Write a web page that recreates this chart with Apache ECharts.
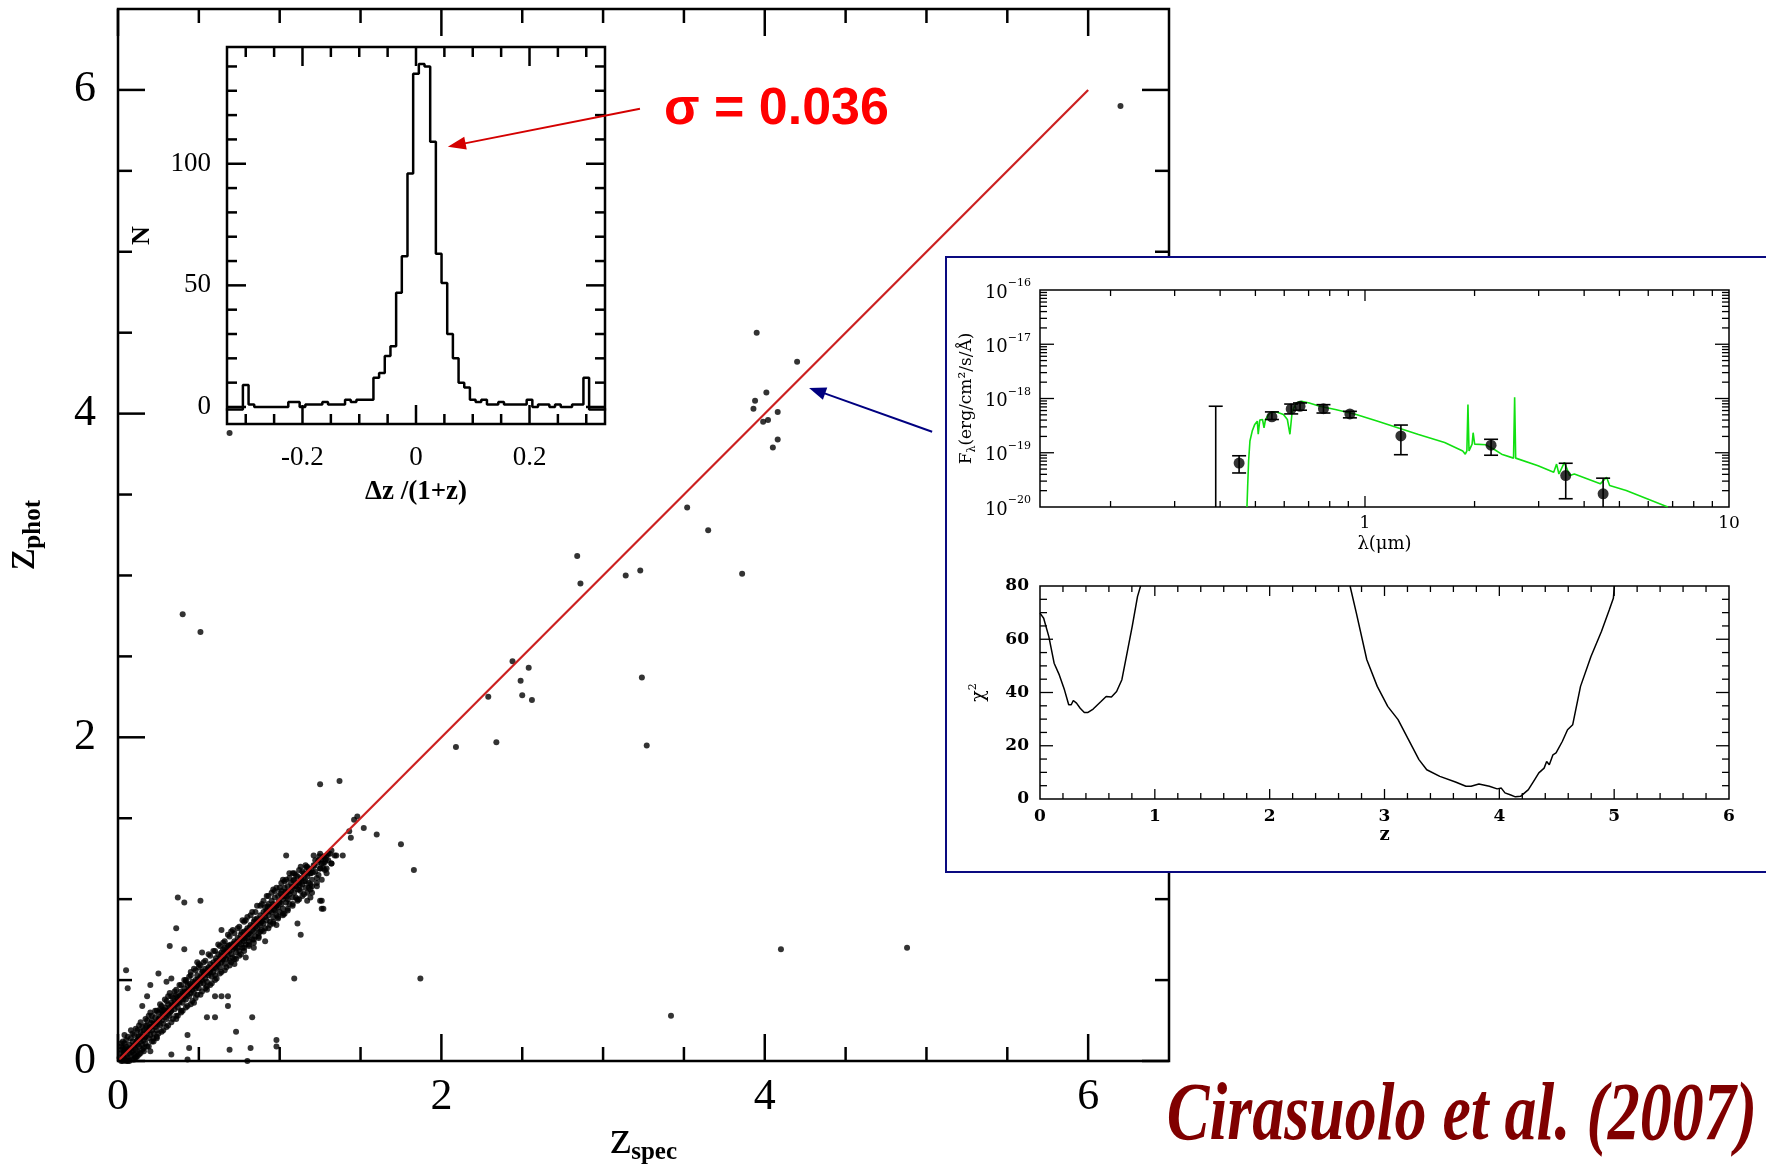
<!DOCTYPE html>
<html><head><meta charset="utf-8">
<script src="https://cdn.jsdelivr.net/npm/echarts@6/dist/echarts.min.js"></script>
<style>html,body{margin:0;padding:0;background:#fff}#c{width:1766px;height:1169px}</style>
</head><body><div id="c"></div><script>
// ---------------- DATA ----------------
// main plot: [z_spec, z_phot]
const bandPts = [
[0.01,0.02],[0.02,0.00],[0.02,0.05],[0.03,0.03],[0.03,0.08],[0.04,0.01],[0.04,0.06],[0.05,0.04],[0.05,0.09],[0.06,0.02],[0.06,0.07],[0.07,0.05],[0.07,0.10],[0.08,0.03],[0.08,0.08],[0.09,0.06],[0.09,0.12],[0.10,0.04],[0.10,0.09],[0.03,0.00],[0.06,0.00],[0.05,0.01],[0.02,0.09],[0.04,0.11],[0.08,0.14],[0.11,0.02],[0.12,0.06],
[0.11,0.11],[0.11,0.07],[0.12,0.13],[0.12,0.10],[0.13,0.09],[0.13,0.15],[0.14,0.12],[0.14,0.18],[0.15,0.10],[0.15,0.15],[0.16,0.13],[0.16,0.19],[0.17,0.15],[0.17,0.11],[0.18,0.17],[0.18,0.22],[0.19,0.14],[0.19,0.19],[0.20,0.21],[0.20,0.16],[0.21,0.25],[0.21,0.19],[0.22,0.17],[0.22,0.23],[0.23,0.21],[0.23,0.27],[0.24,0.19],[0.24,0.24],[0.25,0.26],[0.25,0.30],[0.26,0.22],[0.26,0.27],[0.27,0.25],[0.27,0.31],[0.28,0.29],[0.28,0.23],[0.29,0.27],[0.29,0.33],[0.30,0.31],[0.30,0.26],[0.14,0.05],[0.17,0.26],[0.22,0.12],[0.26,0.35],[0.13,0.22],[0.20,0.30],[0.24,0.15],[0.10,0.16],[0.16,0.08],
[0.31,0.29],[0.31,0.35],[0.32,0.33],[0.32,0.28],[0.33,0.36],[0.33,0.31],[0.34,0.34],[0.34,0.39],[0.35,0.32],[0.35,0.37],[0.36,0.35],[0.36,0.41],[0.37,0.33],[0.37,0.38],[0.38,0.40],[0.38,0.36],[0.39,0.43],[0.39,0.38],[0.40,0.36],[0.40,0.42],[0.41,0.40],[0.41,0.45],[0.42,0.43],[0.42,0.38],[0.43,0.41],[0.43,0.47],[0.44,0.44],[0.44,0.40],[0.45,0.46],[0.45,0.42],[0.46,0.49],[0.46,0.44],[0.47,0.46],[0.47,0.42],[0.48,0.50],[0.48,0.45],[0.49,0.47],[0.49,0.53],[0.50,0.49],[0.50,0.45],[0.51,0.52],[0.51,0.48],[0.52,0.55],[0.52,0.50],[0.53,0.48],[0.53,0.53],[0.54,0.57],[0.54,0.51],[0.55,0.54],[0.55,0.49],[0.56,0.58],[0.56,0.53],[0.57,0.55],[0.57,0.60],[0.58,0.52],[0.58,0.57],[0.59,0.61],[0.59,0.55],[0.60,0.58],[0.60,0.53],[0.32,0.42],[0.36,0.28],[0.42,0.50],[0.47,0.36],[0.50,0.58],[0.55,0.44],[0.45,0.55],[0.39,0.31],
[0.61,0.62],[0.61,0.57],[0.62,0.60],[0.62,0.66],[0.63,0.63],[0.63,0.58],[0.64,0.67],[0.64,0.61],[0.65,0.63],[0.65,0.69],[0.66,0.60],[0.66,0.65],[0.67,0.68],[0.67,0.63],[0.68,0.71],[0.68,0.65],[0.69,0.62],[0.69,0.68],[0.70,0.72],[0.70,0.66],[0.71,0.69],[0.71,0.64],[0.72,0.74],[0.72,0.70],[0.73,0.67],[0.73,0.72],[0.74,0.76],[0.74,0.70],[0.75,0.73],[0.75,0.68],[0.76,0.78],[0.76,0.72],[0.77,0.75],[0.77,0.70],[0.78,0.80],[0.78,0.74],[0.79,0.77],[0.79,0.72],[0.80,0.82],[0.80,0.76],[0.81,0.79],[0.81,0.74],[0.82,0.84],[0.82,0.78],[0.83,0.81],[0.83,0.75],[0.84,0.86],[0.84,0.80],[0.85,0.83],[0.85,0.77],[0.86,0.88],[0.86,0.82],[0.87,0.85],[0.87,0.79],[0.88,0.90],[0.88,0.84],[0.89,0.86],[0.89,0.81],[0.90,0.92],[0.90,0.85],[0.66,0.74],[0.72,0.60],[0.78,0.86],[0.84,0.70],[0.70,0.80],[0.88,0.96],
[0.91,0.89],[0.91,0.95],[0.92,0.87],[0.92,0.93],[0.93,0.97],[0.93,0.90],[0.94,0.86],[0.94,0.95],[0.95,0.99],[0.95,0.92],[0.96,0.89],[0.96,0.97],[0.97,1.01],[0.97,0.93],[0.98,0.96],[0.98,0.90],[0.99,1.02],[0.99,0.95],[1.00,0.98],[1.00,0.92],[1.01,1.05],[1.01,0.97],[1.02,1.00],[1.02,0.94],[1.03,1.07],[1.03,1.02],[1.04,0.98],[1.04,1.04],[1.05,1.08],[1.05,1.00],[1.06,1.03],[1.06,0.97],[1.07,1.10],[1.07,1.05],[1.08,1.01],[1.08,1.07],[1.09,1.12],[1.09,1.04],[1.10,1.08],[1.10,1.01],[1.11,1.14],[1.11,1.06],[1.12,1.10],[1.13,1.05],[1.13,1.13],[1.14,1.09],[1.15,1.16],[1.15,1.11],[1.16,1.07],[1.17,1.14],[1.18,1.19],[1.18,1.10],[1.19,1.16],[1.20,1.12],[1.21,1.21],[1.22,1.17],[1.23,1.13],[1.24,1.24],[1.25,1.19],[1.26,1.22],[1.27,1.26],[1.28,1.23],[1.30,1.28],[1.32,1.30],[0.96,1.06],[1.02,1.12],[1.12,1.00],[1.20,1.04],[1.06,1.16],[0.98,0.84]
];
const bandEdgePts = [
[0.05,0.13],[0.07,0.00],[0.09,0.17],[0.10,0.01],[0.12,0.19],[0.13,0.04],[0.15,0.21],[0.16,0.06],[0.18,0.25],[0.19,0.09],[0.21,0.28],[0.22,0.14],[0.24,0.31],[0.25,0.17],[0.27,0.34],[0.28,0.19],[0.30,0.37],[0.31,0.22],[0.33,0.40],[0.34,0.26],[0.36,0.44],[0.37,0.28],[0.39,0.47],[0.40,0.31],[0.42,0.49],[0.43,0.34],[0.45,0.53],[0.46,0.37],[0.48,0.56],[0.49,0.41],[0.51,0.59],[0.52,0.43],[0.54,0.62],[0.55,0.46],[0.57,0.65],[0.58,0.48],[0.60,0.68],[0.61,0.51],[0.63,0.71],[0.64,0.55],[0.66,0.70],[0.67,0.58],[0.69,0.77],[0.70,0.61],[0.72,0.79],[0.73,0.63],[0.75,0.83],[0.76,0.66],[0.78,0.70],[0.79,0.87],[0.81,0.71],[0.82,0.90],[0.84,0.75],[0.85,0.92],[0.87,0.77],[0.88,0.80],[0.90,0.99],[0.91,0.82],[0.93,1.02],[0.94,0.84],[0.96,0.86],[0.97,1.05],[0.99,0.88],[1.00,1.07],[1.02,0.91],[1.03,1.11],[1.05,0.94],[1.06,1.13],[1.08,0.97],[1.10,1.15],[1.11,0.99],[1.14,1.17],[1.15,1.03],[1.17,1.20],[1.19,1.09],[1.22,1.24],[1.23,1.08],[1.24,1.15],[1.28,1.18],[1.30,1.24],
[0.035,0.045],[0.055,0.065],[0.075,0.075],[0.095,0.095],[0.115,0.125],[0.135,0.135],[0.155,0.165],[0.175,0.185],[0.195,0.205],[0.215,0.215],[0.235,0.235],[0.255,0.255],[0.275,0.285],[0.295,0.295],[0.315,0.315],[0.335,0.345],[0.355,0.355],[0.375,0.365],[0.395,0.405],[0.415,0.425],[0.435,0.435],[0.455,0.455],[0.475,0.485],[0.495,0.505],[0.515,0.515],[0.535,0.545],[0.555,0.565],[0.575,0.575],[0.595,0.595],[0.615,0.605],[0.635,0.645],[0.655,0.665],[0.675,0.675],[0.695,0.705],[0.715,0.725],[0.735,0.735],[0.755,0.755],[0.775,0.765],[0.795,0.805],[0.815,0.825],[0.835,0.835],[0.855,0.855],[0.875,0.875],[0.895,0.885],[0.915,0.915],[0.935,0.925],[0.955,0.955],[0.975,0.965],[0.995,0.985],[1.015,1.015],[1.035,1.045],[1.055,1.045],[1.075,1.075],[1.095,1.085],[1.115,1.105],[1.135,1.125],[1.155,1.145],[1.175,1.165],[1.195,1.185],[1.215,1.205],[1.235,1.225],[1.255,1.245],[1.275,1.265]
];
const bandOuterPts = [
[0.03,0.12],[0.06,0.15],[0.08,0.19],[0.11,0.20],[0.14,0.24],[0.17,0.22],[0.19,0.28],[0.23,0.31],[0.26,0.32],[0.29,0.38],[0.31,0.40],[0.35,0.43],[0.38,0.47],[0.41,0.50],[0.44,0.52],[0.47,0.57],[0.50,0.60],[0.53,0.61],[0.56,0.66],[0.59,0.68],[0.62,0.72],[0.65,0.73],[0.68,0.78],[0.71,0.81],[0.74,0.82],[0.77,0.87],[0.80,0.89],[0.83,0.92],[0.86,0.96],[0.89,0.97],[0.92,1.02],[0.95,1.04],[0.98,1.07],[1.01,1.10],[1.04,1.12],[1.08,1.16],[1.12,1.18],[1.16,1.21],[1.21,1.27],[1.25,1.28],
[0.05,0.00],[0.09,0.01],[0.12,0.03],[0.15,0.07],[0.18,0.09],[0.21,0.12],[0.24,0.14],[0.27,0.18],[0.30,0.21],[0.33,0.24],[0.36,0.26],[0.39,0.30],[0.42,0.33],[0.45,0.35],[0.48,0.39],[0.51,0.41],[0.54,0.45],[0.57,0.47],[0.60,0.50],[0.63,0.54],[0.66,0.56],[0.69,0.59],[0.72,0.63],[0.75,0.65],[0.78,0.68],[0.81,0.72],[0.84,0.73],[0.87,0.76],[0.90,0.80],[0.93,0.82],[0.96,0.85],[0.99,0.89],[1.02,0.90],[1.05,0.93],[1.08,0.96],[1.11,1.00],[1.14,1.02],[1.17,1.04],[1.20,1.08],[1.23,1.10],[1.26,1.12],[1.29,1.19],
[0.045,0.075],[0.085,0.055],[0.125,0.155],[0.165,0.145],[0.205,0.235],[0.245,0.225],[0.285,0.315],[0.325,0.305],[0.365,0.395],[0.405,0.385],[0.445,0.475],[0.485,0.465],[0.525,0.555],[0.565,0.545],[0.605,0.635],[0.645,0.625],[0.685,0.715],[0.725,0.705],[0.765,0.795],[0.805,0.785],[0.845,0.875],[0.885,0.865],[0.925,0.955],[0.965,0.935],[1.005,1.035],[1.045,1.015],[1.085,1.115],[1.125,1.085],[1.165,1.195],[1.205,1.165],[1.245,1.265],[1.285,1.245]
];
const outlierPts = [
[6.20,5.90],[3.95,4.50],[4.20,4.32],[4.01,4.13],[3.94,4.08],[3.93,4.03],[4.08,4.01],[4.02,3.96],[3.99,3.95],[4.08,3.84],[4.05,3.79],
[3.52,3.42],[3.65,3.28],[3.86,3.01],[3.23,3.03],[3.14,3.00],[2.84,3.12],[2.86,2.95],
[2.44,2.47],[2.54,2.43],[2.49,2.35],[2.29,2.25],[2.50,2.26],[2.56,2.23],[3.24,2.37],[3.27,1.95],[2.09,1.94],[2.34,1.97],
[0.40,2.76],[0.51,2.65],[0.69,3.88],
[1.25,1.71],[1.37,1.73],[1.46,1.49],[1.48,1.51],[1.43,1.42],[1.52,1.44],[1.44,1.38],[1.60,1.40],[1.75,1.34],[1.83,1.18],
[4.10,0.69],[4.88,0.70],[3.42,0.28],[1.87,0.51],[1.09,0.51],[0.80,0.00],
[1.04,1.27],[0.37,1.01],[0.41,0.98],[0.51,0.99],[0.36,0.82],[0.32,0.71],[0.41,0.69],[0.25,0.54],[0.05,0.56],[0.06,0.45],[0.20,0.47],
[0.55,0.27],[0.60,0.27],[0.83,0.27],[0.68,0.34],[0.73,0.18],[0.98,0.13],[0.98,0.09],[0.43,0.16],[0.44,0.08],[0.43,0.01],[0.33,0.04],[0.69,0.07],[0.82,0.08],[0.20,0.06],[0.04,0.16],
[1.11,0.85],[1.13,0.78],[1.25,0.99],[1.26,0.94],[1.19,1.01],[1.17,0.99],[1.29,1.16],[1.32,1.22],[1.35,1.27],[1.39,1.27],[1.27,1.19],[1.13,1.20],[1.09,1.16],
[0.64,0.81],[0.64,0.40],[0.60,0.40],[1.19,1.06],[1.03,0.91],[0.98,0.96],[0.91,0.74],[0.79,0.64],[0.78,0.76],[0.52,0.67],[0.49,0.61],[0.33,0.51],[0.30,0.49],[0.18,0.40],[0.15,0.34],[0.68,0.40],[0.02,0.11],[0.02,0.07],[0.11,0.03],
[1.19,1.16],[1.27,1.22],[1.32,1.22],[1.25,1.19],[1.16,1.11],[1.18,1.07],[1.12,1.06],[1.26,0.99],[1.27,0.94],[1.29,1.27],[1.31,1.28],[1.34,1.27]
];
const diagLine = [[0,0],[6,6]];
const mainLabels = [0,2,4,6];
const mainMajor = [0,2,4,6];
const mainMinor = [0.5,1,1.5,2.5,3,3.5,4.5,5,5.5];

// histogram of dz/(1+z): bin centres and counts
const histCenters = [-0.33,-0.32,-0.31,-0.30,-0.29,-0.28,-0.27,-0.26,-0.25,-0.24,-0.23,-0.22,-0.21,-0.20,-0.19,-0.18,-0.17,-0.16,-0.15,-0.14,-0.13,-0.12,-0.11,-0.10,-0.09,-0.08,-0.07,-0.06,-0.05,-0.04,-0.03,-0.02,-0.01,0.00,0.01,0.02,0.03,0.04,0.05,0.06,0.07,0.08,0.09,0.10,0.11,0.12,0.13,0.14,0.15,0.16,0.17,0.18,0.19,0.20,0.21,0.22,0.23,0.24,0.25,0.26,0.27,0.28,0.29,0.30,0.31,0.32,0.33];
const histCounts  = [-1,-1,-1,9,1,0,0,0,0,0,0,2,2,0,1,1,1,2,1,1,1,3,2,3,3,3,12,14,21,25,47,62,96,137,141,140,109,63,51,30,20,10,8,3,2,3,1,1,2,1,1,1,1,3,0,1,1,0,1,0,0,1,1,12,-1,-1,-1];
const histXLabels = [-0.2,0,0.2];
const histYLabels = [0,50,100];
const histXMajor = [-0.2,0,0.2];
const histXMinor = [-0.3,-0.25,-0.15,-0.1,-0.05,0.05,0.1,0.15,0.25,0.3];
const histYMajor = [0,50,100];
const histYMinor = [10,20,30,40,60,70,80,90,110,120,130,140];

// SED photometry (lambda in micron, F_lambda in erg/cm2/s/A)
const sedLam = [0.451,0.555,0.627,0.663,0.769,0.909,1.255,2.22,3.56,4.51];
const sedF   = [6.45e-20,4.59e-19,6.43e-19,7.2e-19,6.5e-19,5.2e-19,2.04e-19,1.38e-19,3.79e-20,1.75e-20];
const sedHi  = [8.8e-20,5.66e-19,7.9e-19,8.28e-19,7.7e-19,5.8e-19,3.24e-19,1.77e-19,6.4e-20,3.4e-20];
const sedLo  = [4.24e-20,4.1e-19,5.2e-19,6.08e-19,5.4e-19,4.4e-19,9.2e-20,9.0e-20,1.42e-20,1.0e-20];
const ulLam  = [0.389];
const ulHi   = [7.2e-19];
// best-fit template
const modelLam = [0.474,0.476,0.479,0.483,0.490,0.498,0.506,0.509,0.514,0.523,0.528,0.533,0.544,0.555,0.574,0.597,0.612,0.622,0.631,0.648,0.669,0.703,0.751,0.829,0.946,1.079,1.230,1.403,1.655,1.856,1.886,1.905,1.918,1.931,1.969,1.982,2.001,2.151,2.261,2.373,2.559,2.577,2.594,2.989,3.30,3.36,3.41,3.53,3.65,3.76,4.43,4.61,4.70,5.22,6.79];
const modelF   = [1.0e-20,2.32e-20,7.11e-20,1.65e-19,2.51e-19,3.33e-19,3.83e-19,2.19e-19,3.99e-19,4.10e-19,2.89e-19,4.10e-19,5.07e-19,5.66e-19,5.58e-19,5.07e-19,4.10e-19,2.19e-19,5.83e-19,8.28e-19,8.87e-19,8.28e-19,7.19e-19,6.25e-19,5.07e-19,3.83e-19,2.89e-19,2.18e-19,1.54e-19,1.08e-19,9.42e-20,1.08e-19,7.71e-19,1.08e-19,1.44e-19,2.34e-19,1.44e-19,1.40e-19,1.16e-19,9.42e-20,7.96e-20,1.05e-18,7.96e-20,5.77e-20,4.36e-20,6.18e-20,4.06e-20,6.64e-20,3.79e-20,4.06e-20,2.67e-20,3.53e-20,2.49e-20,2.01e-20,1.0e-20];
const sedXMajor = [1];
const sedXMinor = [0.2,0.3,0.4,0.5,0.6,0.7,0.8,0.9,2,3,4,5,6,7,8,9];
const sedYMajor = [1e-19,1e-18,1e-17];
const sedMant = [2,3,4,5,6,7,8,9];
const sedDecades = [1e-20,1e-19,1e-18,1e-17];

// chi2 vs z
const chiZ1 = [0,0.032,0.077,0.123,0.168,0.213,0.25,0.272,0.29,0.318,0.35,0.386,0.418,0.463,0.531,0.576,0.622,0.667,0.713,0.758,0.803,0.849,0.876];
const chiV1 = [69.8,67.9,61,51,46.6,41,35.4,35.4,37,36,34.1,32.5,32.5,33.8,36.6,38.5,38.3,40.4,44.8,54.8,64.8,76,80];
const chiZ2 = [2.70,2.755,2.846,2.937,3.028,3.118,3.209,3.300,3.368,3.482,3.618,3.709,3.754,3.822,3.913,3.981,4.017,4.049,4.094,4.14,4.185,4.253,4.308,4.344,4.39,4.412,4.435,4.467,4.494,4.548,4.594,4.639,4.707,4.798,4.889,4.957,4.993,5.002];
const chiV2 = [80,69.8,52.3,42.3,34.8,29.8,22.3,14.8,11,8.5,6.4,4.8,4.8,5.6,4.8,3.8,4.1,2.3,1.6,0.8,1,3.5,7.3,9.8,11.6,14.1,12.9,16.6,17.3,21.6,26,27.9,42.3,53.5,62.9,71,75.4,80];
const chiXMajor = [1,2,3,4,5];
const chiXMinor = [0.2,0.4,0.6,0.8,1.2,1.4,1.6,1.8,2.2,2.4,2.6,2.8,3.2,3.4,3.6,3.8,4.2,4.4,4.6,4.8,5.2,5.4,5.6,5.8];
const chiYMajor = [20,40,60];
const chiYMinor = [5,10,15,25,30,35,45,50,55,65,70,75];

// ---------------- CHART ----------------
const SERIF = 'Liberation Serif';
const DSERIF = 'DejaVu Serif';
const chart = echarts.init(document.getElementById('c'), null, {renderer:'canvas'});

function tickSeries(gi, axis, vals, ref, len, lw) {
  return {
    type:'custom', xAxisIndex:gi, yAxisIndex:gi, z: gi>=2?32:4, silent:true, clip:false,
    encode:{x:0,y:1},
    data: vals.map(v => axis==='x' ? [v, ref] : [ref, v]),
    renderItem: function(params, api) {
      const cs = params.coordSys;
      const p = api.coord([api.value(0), api.value(1)]);
      const st = {stroke:'#000', lineWidth:lw};
      let ch;
      if (axis==='x') {
        const b = cs.y + cs.height, t = cs.y;
        ch = [{type:'line', shape:{x1:p[0],y1:b,x2:p[0],y2:b-len}, style:st},
              {type:'line', shape:{x1:p[0],y1:t,x2:p[0],y2:t+len}, style:st}];
      } else {
        const l = cs.x, r = cs.x + cs.width;
        ch = [{type:'line', shape:{x1:l,y1:p[1],x2:l+len,y2:p[1]}, style:st},
              {type:'line', shape:{x1:r,y1:p[1],x2:r-len,y2:p[1]}, style:st}];
      }
      return {type:'group', children:ch};
    }
  };
}

function baseAxis(gi, type, min, max, extra) {
  return Object.assign({gridIndex:gi, type:type, min:min, max:max,
    axisLine:{show:false}, axisTick:{show:false}, splitLine:{show:false}, minorTick:{show:false}}, extra);
}

const histLine = histCenters.map((c,i)=>[c-0.005, histCounts[i]]);
histLine.push([histCenters[histCenters.length-1]+0.005, histCounts[histCounts.length-1]]);
const sedYMinor = [];
sedDecades.forEach(d => sedMant.forEach(m => sedYMinor.push(m*d)));

const gridBase = {show:true, borderColor:'#000', outerBoundsMode:'none', containLabel:false};
const option = {
  backgroundColor:'#fff',
  animation:false,
  grid:[
    Object.assign({left:118, top:9, width:1051, height:1052, borderWidth:2.5, z:0}, gridBase),
    Object.assign({left:227, top:47, width:378, height:377, borderWidth:2.5, z:1}, gridBase),
    Object.assign({left:1040, top:290, width:689, height:217, borderWidth:1.5, z:30}, gridBase),
    Object.assign({left:1040, top:586, width:689, height:213, borderWidth:1.5, z:30}, gridBase)
  ],
  xAxis:[
    baseAxis(0,'value',0,6.5,{
      axisLabel:{customValues:mainLabels, margin:14, fontSize:44, fontFamily:SERIF, color:'#000'},
      name:'{z|z}{s|spec}', nameLocation:'middle', nameGap:54, nameMoveOverlap:false,
      nameTextStyle:{rich:{z:{fontSize:48,fontFamily:SERIF,color:'#000',lineHeight:50,verticalAlign:'middle'},
                           s:{fontSize:25,fontFamily:SERIF,fontWeight:'bold',color:'#000',lineHeight:24,verticalAlign:'bottom'}}}
    }),
    baseAxis(1,'value',-0.333,0.333,{
      axisLabel:{customValues:histXLabels, margin:20, fontSize:27, fontFamily:SERIF, color:'#000',
                 formatter:v=>Math.abs(v)<1e-9?'0':String(v)},
      name:'Δz /(1+z)', nameLocation:'middle', nameGap:55,
      nameTextStyle:{fontSize:27, fontWeight:'bold', fontFamily:SERIF, color:'#000'}
    }),
    baseAxis(2,'log',0.128,10,{
      logBase:10, z:30,
      axisLabel:{showMinLabel:false, margin:8, fontSize:17, fontFamily:DSERIF, color:'#000',
                 formatter:v=>String(Math.round(v))},
      name:'λ(μm)', nameLocation:'middle', nameGap:28,
      nameTextStyle:{fontSize:18, fontFamily:DSERIF, color:'#000'}
    }),
    baseAxis(3,'value',0,6,{
      interval:1, z:30,
      axisLabel:{margin:9, fontSize:17, fontWeight:'bold', fontFamily:DSERIF, color:'#000'},
      name:'z', nameLocation:'middle', nameGap:27,
      nameTextStyle:{fontSize:18, fontWeight:'bold', fontFamily:DSERIF, color:'#000'}
    })
  ],
  yAxis:[
    baseAxis(0,'value',0,6.5,{
      axisLabel:{customValues:mainLabels, margin:22, fontSize:44, fontFamily:SERIF, color:'#000'},
      name:'{z|z}{s|phot}', nameLocation:'middle', nameGap:72,
      nameTextStyle:{rich:{z:{fontSize:48,fontFamily:SERIF,color:'#000',lineHeight:50,verticalAlign:'middle'},
                           s:{fontSize:25,fontFamily:SERIF,fontWeight:'bold',color:'#000',lineHeight:24,verticalAlign:'bottom'}}}
    }),
    baseAxis(1,'value',-7,148,{
      axisLabel:{customValues:histYLabels, margin:16, fontSize:27, fontFamily:SERIF, color:'#000'},
      name:'N', nameLocation:'middle', nameGap:72,
      nameTextStyle:{fontSize:26, fontWeight:'bold', fontFamily:SERIF, color:'#000'}
    }),
    baseAxis(2,'log',1e-20,1e-16,{
      logBase:10, z:30,
      axisLabel:{margin:9, color:'#000',
        formatter:v=>'{b|10}{e|−'+Math.abs(Math.round(Math.log10(v)))+'}',
        rich:{b:{fontSize:18,fontFamily:DSERIF,color:'#000',lineHeight:24,verticalAlign:'bottom'},
              e:{fontSize:11,fontFamily:DSERIF,color:'#000',lineHeight:13,verticalAlign:'top'}}},
      name:'F{l|λ}(erg/cm²/s/Å)', nameLocation:'middle', nameGap:62,
      nameTextStyle:{fontSize:17, fontFamily:DSERIF, color:'#000', lineHeight:22,
        rich:{l:{fontSize:11,fontFamily:DSERIF,color:'#000',lineHeight:12,verticalAlign:'bottom'}}}
    }),
    baseAxis(3,'value',0,80,{
      interval:20, z:30,
      axisLabel:{margin:11, fontSize:17, fontWeight:'bold', fontFamily:DSERIF, color:'#000'},
      name:'{c|χ}{p|2}', nameLocation:'middle', nameGap:50,
      nameTextStyle:{rich:{c:{fontSize:19,fontFamily:DSERIF,color:'#000',lineHeight:22,verticalAlign:'middle'},
                           p:{fontSize:11,fontFamily:DSERIF,color:'#000',lineHeight:12,verticalAlign:'top'}}}
    })
  ],
  series:[
    {type:'scatter', xAxisIndex:0, yAxisIndex:0, data:bandPts.concat(bandEdgePts, bandOuterPts, outlierPts), symbolSize:6,
     itemStyle:{color:'#000'}, z:2, silent:true},
    {type:'line', xAxisIndex:0, yAxisIndex:0, data:diagLine, symbol:'none',
     lineStyle:{color:'#cc2020', width:2.2}, z:3, silent:true},
    {type:'line', xAxisIndex:1, yAxisIndex:1, data:histLine, step:'end', symbol:'none', clip:true,
     lineStyle:{color:'#000', width:2.5}, z:3, silent:true},
    {type:'line', xAxisIndex:2, yAxisIndex:2, data:modelLam.map((l,i)=>[l,modelF[i]]), symbol:'none', clip:true,
     lineStyle:{color:'#11e011', width:1.6}, z:31, silent:true},
    {type:'custom', xAxisIndex:2, yAxisIndex:2, z:33, silent:true, clip:false, encode:{x:0,y:1},
     data: sedLam.map((l,i)=>[l, sedF[i], sedLo[i], sedHi[i]]).concat(ulLam.map((l,i)=>[l, ulHi[i], 0, ulHi[i]])),
     renderItem:function(params, api){
       const cs = params.coordSys;
       const bot = cs.y + cs.height;
       const lam = api.value(0), lo = api.value(2), hi = api.value(3);
       const pHi = api.coord([lam, hi]);
       let yLo = bot, loCap = false;
       if (lo > 0) { yLo = Math.min(api.coord([lam, lo])[1], bot); loCap = yLo < bot - 0.5; }
       const st = {stroke:'#000', lineWidth:1.6};
       const w = 7;
       const ch = [{type:'line', shape:{x1:pHi[0],y1:pHi[1],x2:pHi[0],y2:yLo}, style:st},
                   {type:'line', shape:{x1:pHi[0]-w,y1:pHi[1],x2:pHi[0]+w,y2:pHi[1]}, style:st}];
       if (loCap) ch.push({type:'line', shape:{x1:pHi[0]-w,y1:yLo,x2:pHi[0]+w,y2:yLo}, style:st});
       return {type:'group', children:ch};
     }},
    {type:'scatter', xAxisIndex:2, yAxisIndex:2, data:sedLam.map((l,i)=>[l,sedF[i]]), symbolSize:11,
     itemStyle:{color:'#000'}, z:34, silent:true},
    {type:'line', xAxisIndex:3, yAxisIndex:3, data:chiZ1.map((z,i)=>[z,chiV1[i]]), symbol:'none', clip:true,
     lineStyle:{color:'#000', width:1.5}, z:31, silent:true},
    {type:'line', xAxisIndex:3, yAxisIndex:3, data:chiZ2.map((z,i)=>[z,chiV2[i]]), symbol:'none', clip:true,
     lineStyle:{color:'#000', width:1.5}, z:31, silent:true},
    tickSeries(0,'x',mainMajor,1,27,2.5), tickSeries(0,'x',mainMinor,1,14,2.5),
    tickSeries(0,'y',mainMajor,1,27,2.5), tickSeries(0,'y',mainMinor,1,14,2.5),
    tickSeries(1,'x',histXMajor,50,19,2.5), tickSeries(1,'x',histXMinor,50,10,2.5),
    tickSeries(1,'y',histYMajor,0,19,2.5), tickSeries(1,'y',histYMinor,0,10,2.5),
    tickSeries(2,'x',sedXMajor,1e-18,11,1.3), tickSeries(2,'x',sedXMinor,1e-18,6,1.3),
    tickSeries(2,'y',sedYMajor,1,14,1.3), tickSeries(2,'y',sedYMinor,1,7,1.3),
    tickSeries(3,'x',chiXMajor,40,10,1.3), tickSeries(3,'x',chiXMinor,40,6,1.3),
    tickSeries(3,'y',chiYMajor,3,13,1.3), tickSeries(3,'y',chiYMinor,3,7,1.3)
  ]
};
chart.setOption(option);

function arrow(tail, tip, color, lw, L, W, z) {
  const dx = tip[0]-tail[0], dy = tip[1]-tail[1];
  const d = Math.sqrt(dx*dx+dy*dy), ux = dx/d, uy = dy/d;
  const bx = tip[0]-ux*L, by = tip[1]-uy*L, nx = -uy, ny = ux;
  return [
    {type:'line', z:z, shape:{x1:tail[0],y1:tail[1],x2:bx+ux*2,y2:by+uy*2}, style:{stroke:color, lineWidth:lw}},
    {type:'polygon', z:z, shape:{points:[tip,[bx+nx*W/2,by+ny*W/2],[bx-nx*W/2,by-ny*W/2]]}, style:{fill:color}}
  ];
}
const px = p => chart.convertToPixel({gridIndex:0}, p);
const redArrow = arrow(px([3.228,5.884]), px([2.040,5.649]), '#d40000', 2, 18, 13, 40);
const blueArrow = arrow(px([5.035,3.888]), px([4.274,4.159]), '#000080', 2, 17, 13, 40);

chart.setOption({graphic:{elements:[
  {type:'rect', z:20, shape:{x:946, y:257, width:830, height:615}, style:{fill:'#fff', stroke:'#0a0a80', lineWidth:2}},
  {type:'text', z:40, x:664, y:110, style:{text:'σ = 0.036', fill:'#ff0000', font:'bold 52px "Liberation Sans", Arial, sans-serif', textAlign:'left', textVerticalAlign:'middle'}},
  {type:'text', z:40, x:1757, y:1118, scaleY:1.3, style:{text:'Cirasuolo et al. (2007)', fill:'#800000', font:'italic bold 64px "Liberation Serif", "Times New Roman", serif', textAlign:'right', textVerticalAlign:'middle'}}
].concat(redArrow, blueArrow)}});
</script></body></html>
